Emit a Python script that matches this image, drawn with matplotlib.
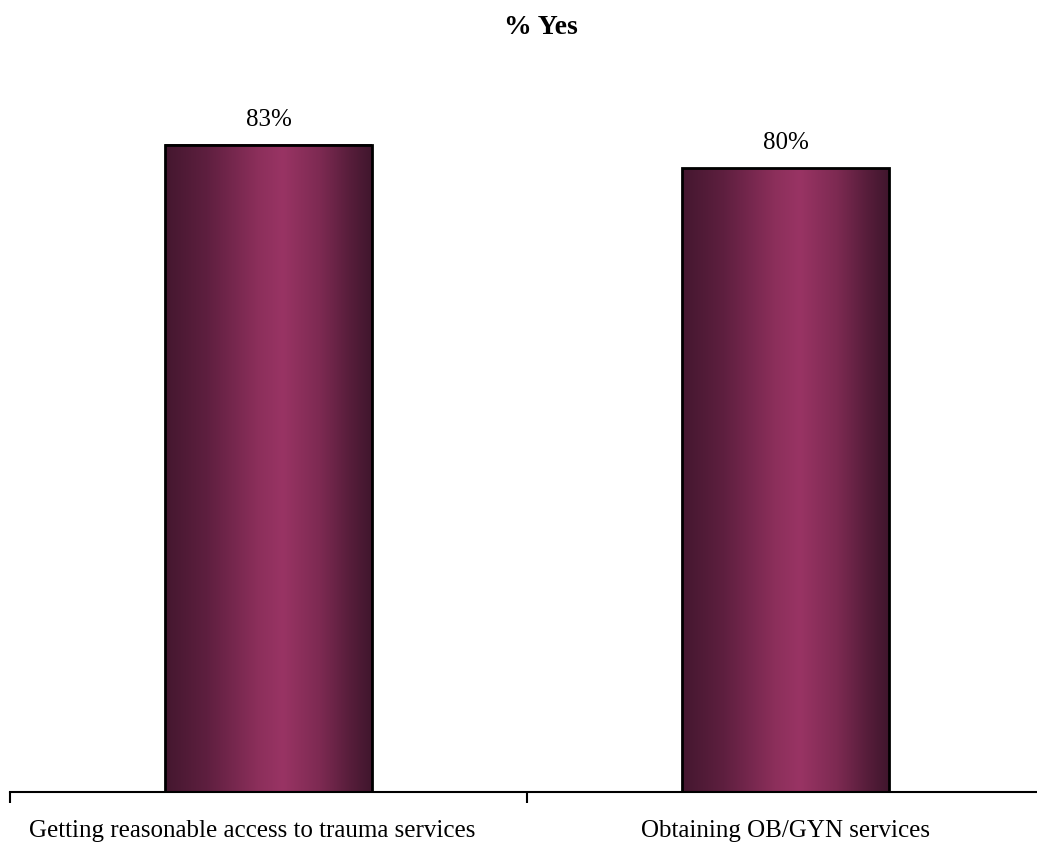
import numpy as np
import matplotlib
matplotlib.use("Agg")
import matplotlib.pyplot as plt
from matplotlib.colors import LinearSegmentedColormap
from matplotlib.transforms import ScaledTranslation

categories = ["Getting reasonable access to trauma services", "Obtaining OB/GYN services"]
values = [83, 80]
value_labels = ["83%", "80%"]
title = "% Yes"

plt.rcParams["font.family"] = ["Liberation Serif", "DejaVu Serif"]

W, H = 1037, 850
fig = plt.figure(figsize=(W / 100, H / 100), dpi=100)
ax = fig.add_axes([10 / W, (H - 792) / H, 1034 / W, 780 / H])

# cylinder-like shading across each bar
shade = LinearSegmentedColormap.from_list(
    "shade",
    [(0.0, "#44172f"), (0.2, "#5e1f3f"), (0.45, "#8c2f5b"),
     (0.57, "#993464"), (0.75, "#7d2a52"), (0.9, "#561d3a"), (1.0, "#40162d")],
)
grad = np.linspace(0, 1, 256).reshape(1, -1)

x = np.arange(len(categories))
width = 0.4
bars = ax.bar(x, values, width=width, facecolor="none", edgecolor="black",
              linewidth=2, zorder=3)
for rect, lab in zip(bars, value_labels):
    x0, y0 = rect.get_x(), rect.get_y()
    w, h = rect.get_width(), rect.get_height()
    ax.imshow(grad, cmap=shade, aspect="auto", extent=(x0, x0 + w, y0, y0 + h),
              interpolation="bicubic", zorder=2)
    ax.annotate(lab, (x0 + w / 2, y0 + h), xytext=(0, 10), textcoords="offset points",
                ha="center", va="bottom", fontsize=18)

ax.set_xlim(-0.5, len(categories) - 0.5)
ax.set_ylim(0, 100)

for side in ("top", "right", "left"):
    ax.spines[side].set_visible(False)
ax.spines["bottom"].set_linewidth(1.5)
ax.set_yticks([])
ax.set_xticks(x)
ax.set_xticklabels(categories, fontsize=18)
ax.tick_params(axis="x", which="major", length=0, pad=20)
ax.set_xticks(np.arange(len(categories) + 1) - 0.5, minor=True)
ax.tick_params(axis="x", which="minor", length=8, width=1.5, direction="out")

# the long first label sits a little left of its bar
first = ax.get_xticklabels()[0]
first.set_transform(first.get_transform() + ScaledTranslation(-0.16, 0, fig.dpi_scale_trans))

fig.text(541 / W, 1 - 27 / H, title, ha="center", va="center",
         fontsize=20, fontweight="bold")

fig.savefig("out.png", dpi=100)
